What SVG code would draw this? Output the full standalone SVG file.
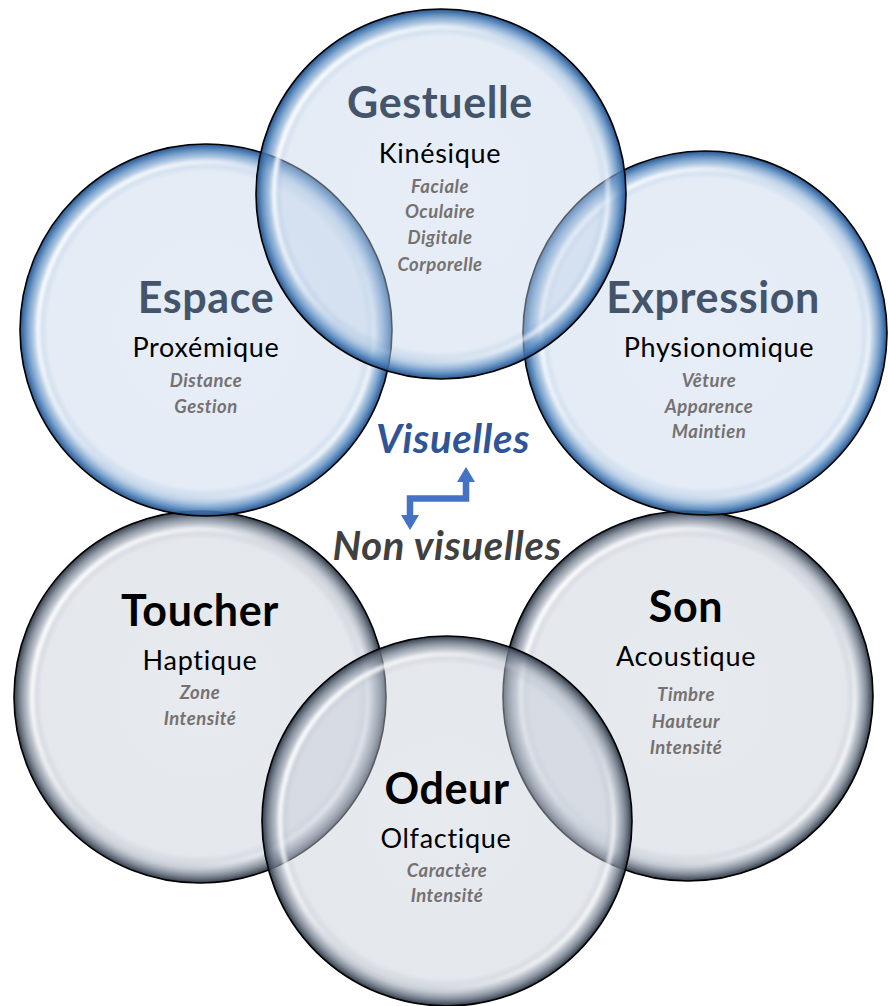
<svg xmlns="http://www.w3.org/2000/svg" width="888" height="1006" viewBox="0 0 888 1006">
  <defs>
    <!-- bubble body: pale translucent centre, darker rim -->
    <radialGradient id="bodyBlue" cx="50%" cy="50%" r="50%">
      <stop offset="0" stop-color="#c3d4ea" stop-opacity="0.4"/>
      <stop offset="0.85" stop-color="#c3d4ea" stop-opacity="0.45"/>
      <stop offset="0.925" stop-color="#8aaed6" stop-opacity="0.62"/>
      <stop offset="0.972" stop-color="#457ab4" stop-opacity="0.88"/>
      <stop offset="1" stop-color="#214d85" stop-opacity="0.97"/>
    </radialGradient>
    <radialGradient id="bodyGray" cx="50%" cy="50%" r="50%">
      <stop offset="0" stop-color="#c6cdd8" stop-opacity="0.42"/>
      <stop offset="0.85" stop-color="#c6cdd8" stop-opacity="0.47"/>
      <stop offset="0.925" stop-color="#9ea8b6" stop-opacity="0.62"/>
      <stop offset="0.972" stop-color="#5f6a79" stop-opacity="0.88"/>
      <stop offset="1" stop-color="#2b3441" stop-opacity="0.97"/>
    </radialGradient>
    <!-- glossy reflection along the inner rim -->
    <linearGradient id="shine" x1="0" y1="0.2" x2="1" y2="0.8">
      <stop offset="0" stop-color="#ffffff" stop-opacity="1"/>
      <stop offset="0.3" stop-color="#ffffff" stop-opacity="0.55"/>
      <stop offset="0.45" stop-color="#ffffff" stop-opacity="0.1"/>
      <stop offset="0.7" stop-color="#ffffff" stop-opacity="0.1"/>
      <stop offset="1" stop-color="#ffffff" stop-opacity="0.9"/>
    </linearGradient>
    <filter id="soft" x="-10%" y="-10%" width="120%" height="120%">
      <feGaussianBlur stdDeviation="1.6"/>
    </filter>
    <marker id="head" markerUnits="userSpaceOnUse" markerWidth="15" markerHeight="18" viewBox="0 0 15 18" refX="0" refY="9" orient="auto-start-reverse">
      <path d="M0,0 L15,9 L0,18 Z" fill="#4472c4"/>
    </marker>
    <style>
      .edge { fill: none; stroke: #000; stroke-width: 1.6; }
      .blue { fill: url(#bodyBlue); }
      .gray { fill: url(#bodyGray); }
      .gloss { fill: none; stroke: url(#shine); stroke-width: 5; filter: url(#soft); }
      text { font-family: Lato, "Open Sans", "Liberation Sans", sans-serif; text-anchor: middle; }
      .title { font-size: 43px; font-weight: bold; letter-spacing: 0.6px; }
      .tb { fill: #44546a; }
      .tk { fill: #000; }
      .sub { font-size: 27px; fill: #000; letter-spacing: 0.7px; }
      .item { font-size: 18.5px; font-weight: bold; font-style: italic; fill: #767171; letter-spacing: 0.5px; }
      .cat { font-size: 40px; font-weight: bold; font-style: italic; letter-spacing: 0.7px; }
      .arrow { fill: none; stroke: #4472c4; stroke-width: 6.5; }
    </style>
  </defs>

  <rect width="888" height="1006" fill="#ffffff"/>

  <!-- non-visual channels -->
  <g id="toucher">
    <circle class="gray" cx="200" cy="697" r="186"/>
    <circle class="gloss" cx="200" cy="697" r="168"/>
    <circle class="edge" cx="200" cy="697" r="186"/>
    <text class="title tk" x="200" y="626">Toucher</text>
    <text class="sub" x="200" y="670">Haptique</text>
    <text class="item" x="200" y="699">Zone</text>
    <text class="item" x="200" y="725">Intensité</text>
  </g>
  <g id="son">
    <circle class="gray" cx="688" cy="696" r="185"/>
    <circle class="gloss" cx="688" cy="696" r="167"/>
    <circle class="edge" cx="688" cy="696" r="185"/>
    <text class="title tk" x="686" y="622">Son</text>
    <text class="sub" x="686" y="666">Acoustique</text>
    <text class="item" x="686" y="701">Timbre</text>
    <text class="item" x="686" y="728">Hauteur</text>
    <text class="item" x="686" y="754">Intensité</text>
  </g>
  <g id="odeur">
    <circle class="gray" cx="447" cy="821" r="185"/>
    <circle class="gloss" cx="447" cy="821" r="167"/>
    <circle class="edge" cx="447" cy="821" r="185"/>
    <text class="title tk" x="447" y="804">Odeur</text>
    <text class="sub" x="446" y="848">Olfactique</text>
    <text class="item" x="447" y="877">Caractère</text>
    <text class="item" x="447" y="902">Intensité</text>
  </g>

  <!-- visual channels -->
  <g id="espace">
    <circle class="blue" cx="206" cy="330" r="186"/>
    <circle class="gloss" cx="206" cy="330" r="168"/>
    <circle class="edge" cx="206" cy="330" r="186"/>
    <text class="title tb" x="206" y="313">Espace</text>
    <text class="sub" x="206" y="357">Proxémique</text>
    <text class="item" x="206" y="387">Distance</text>
    <text class="item" x="206" y="413">Gestion</text>
  </g>
  <g id="expression">
    <circle class="blue" cx="705" cy="333" r="182"/>
    <circle class="gloss" cx="705" cy="333" r="164"/>
    <circle class="edge" cx="705" cy="333" r="182"/>
    <text class="title tb" x="713" y="313">Expression</text>
    <text class="sub" x="719" y="357">Physionomique</text>
    <text class="item" x="709" y="387">Vêture</text>
    <text class="item" x="709" y="413">Apparence</text>
    <text class="item" x="709" y="438">Maintien</text>
  </g>
  <g id="gestuelle">
    <circle class="blue" cx="441" cy="194" r="185"/>
    <circle class="gloss" cx="441" cy="194" r="167"/>
    <circle class="edge" cx="441" cy="194" r="185"/>
    <text class="title tb" x="440" y="118">Gestuelle</text>
    <text class="sub" x="440" y="163">Kinésique</text>
    <text class="item" x="440" y="193">Faciale</text>
    <text class="item" x="440" y="218">Oculaire</text>
    <text class="item" x="440" y="244">Digitale</text>
    <text class="item" x="440" y="271">Corporelle</text>
  </g>

  <!-- category labels -->
  <g id="categories">
    <text class="cat" x="453" y="453" fill="#2f5597">Visuelles</text>
    <text class="cat" x="447" y="560" fill="#404040">Non visuelles</text>
  </g>

  <!-- two-way link between the two families -->
  <g id="connectors">
    <path class="arrow" d="M410 515 V498.5 H466 V482" marker-start="url(#head)" marker-end="url(#head)"/>
  </g>
</svg>
